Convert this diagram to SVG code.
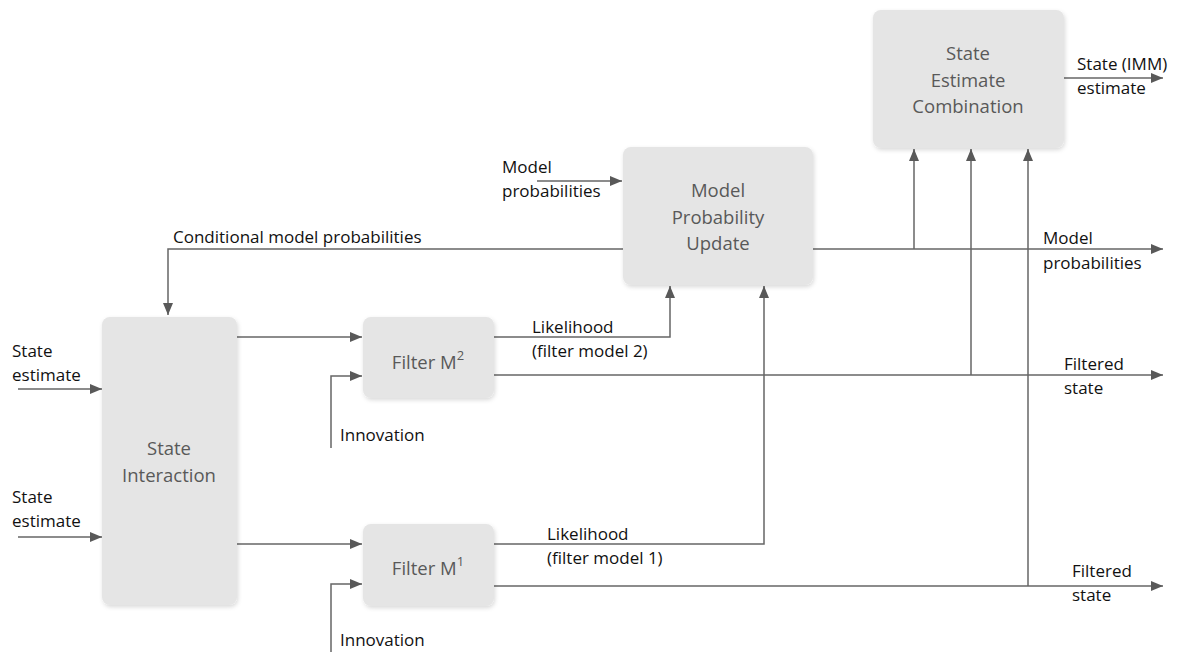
<svg xmlns="http://www.w3.org/2000/svg" width="1179" height="652" viewBox="0 0 1179 652">
<defs>
<marker id="ah" viewBox="0 0 12 10" refX="12" refY="5" markerWidth="12" markerHeight="10" markerUnits="userSpaceOnUse" orient="auto">
<path d="M0,0 L12,5 L0,10 z" fill="#595959"/>
</marker>
<filter id="sh" x="-10%" y="-10%" width="130%" height="130%">
<feDropShadow dx="1" dy="2" stdDeviation="2" flood-color="#000" flood-opacity="0.15"/>
</filter>
</defs>
<style>
.box{fill:#e5e5e5;filter:url(#sh)}
.bt{font-family:"Open Sans","Noto Sans",sans-serif;font-size:18.5px;fill:#595959;text-anchor:middle}
.lt{font-family:"Open Sans","Noto Sans",sans-serif;font-size:17px;fill:#111}
.ln{fill:none;stroke:#666;stroke-width:1.5}
.ar{marker-end:url(#ah)}
</style>
<rect width="1179" height="652" fill="#fff"/>
<g id="connectors">
<path class="ln ar" d="M1064,78 H1163"/>
<path class="ln ar" d="M537,181 H622"/>
<path class="ln ar" d="M623,249 H168 V315"/>
<path class="ln ar" d="M813,249 H1163"/>
<path class="ln ar" d="M914,249 V149"/>
<path class="ln ar" d="M971,375 V149"/>
<path class="ln ar" d="M1028,586 V149"/>
<path class="ln ar" d="M18,389 H102"/>
<path class="ln ar" d="M18,537 H102"/>
<path class="ln ar" d="M237,337 H362"/>
<path class="ln ar" d="M237,544 H362"/>
<path class="ln ar" d="M331,448 V376 H362"/>
<path class="ln ar" d="M331,652 V584 H362"/>
<path class="ln ar" d="M494,337 H670 V286"/>
<path class="ln ar" d="M494,544 H764 V286"/>
<path class="ln ar" d="M494,375 H1163"/>
<path class="ln ar" d="M494,586 H1163"/>
</g>
<g id="sec">
<rect class="box" x="873" y="10" width="191" height="138" rx="8"/>
<text class="bt" x="968" y="60">State</text>
<text class="bt" x="968" y="87">Estimate</text>
<text class="bt" x="968" y="113">Combination</text>
</g>
<g id="mpu">
<rect class="box" x="623" y="147" width="190" height="138" rx="8"/>
<text class="bt" x="718" y="197">Model</text>
<text class="bt" x="718" y="224">Probability</text>
<text class="bt" x="718" y="250">Update</text>
</g>
<g id="si">
<rect class="box" x="102" y="317" width="135" height="288" rx="8"/>
<text class="bt" x="169" y="455">State</text>
<text class="bt" x="169" y="482">Interaction</text>
</g>
<g id="f2">
<rect class="box" x="363" y="317" width="131" height="81" rx="8"/>
<text class="bt" x="428" y="369">Filter M<tspan font-size="13" dy="-9">2</tspan></text>
</g>
<g id="f1">
<rect class="box" x="363" y="524" width="131" height="82" rx="8"/>
<text class="bt" x="428" y="575">Filter M<tspan font-size="13" dy="-9">1</tspan></text>
</g>
<g id="labels">
<text class="lt" x="1077" y="70">State (IMM)</text>
<text class="lt" x="1077" y="94">estimate</text>
<text class="lt" x="502" y="173">Model</text>
<text class="lt" x="502" y="197">probabilities</text>
<text class="lt" x="173" y="243">Conditional model probabilities</text>
<text class="lt" x="1043" y="244">Model</text>
<text class="lt" x="1043" y="269">probabilities</text>
<text class="lt" x="12" y="357">State</text>
<text class="lt" x="12" y="381">estimate</text>
<text class="lt" x="12" y="503">State</text>
<text class="lt" x="12" y="527">estimate</text>
<text class="lt" x="340" y="441">Innovation</text>
<text class="lt" x="340" y="646">Innovation</text>
<text class="lt" x="532" y="333">Likelihood</text>
<text class="lt" x="532" y="357">(filter model 2)</text>
<text class="lt" x="547" y="540">Likelihood</text>
<text class="lt" x="547" y="564">(filter model 1)</text>
<text class="lt" x="1064" y="370">Filtered</text>
<text class="lt" x="1064" y="394">state</text>
<text class="lt" x="1072" y="577">Filtered</text>
<text class="lt" x="1072" y="601">state</text>
</g>
</svg>
